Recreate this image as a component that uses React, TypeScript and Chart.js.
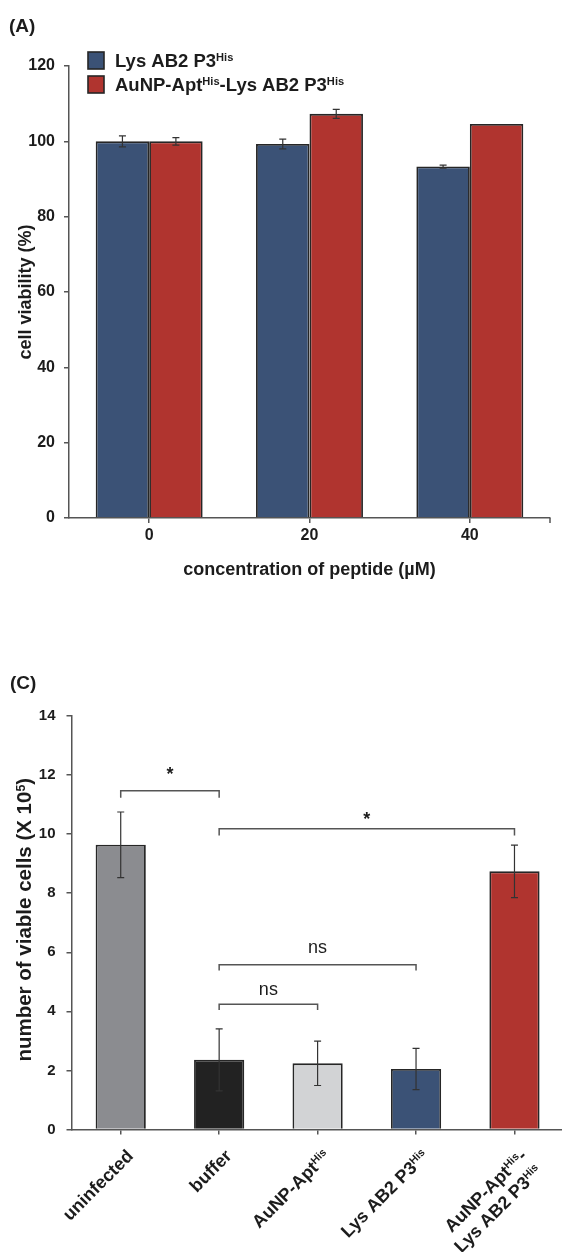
import React, { useEffect, useRef } from 'react';
import { Chart, registerables } from 'chart.js';

Chart.register(...registerables);

const FONT = '"Liberation Sans", Arial, Helvetica, sans-serif';
const TEXT = '#1c1c1c';
const AXIS = '#555555';
const EDGE = '#262626';

// ---------- Panel A data ----------
const concentrations = ['0', '20', '40'];
const lysValues = [100, 99.3, 93.3];
const lysErrors = [1.45, 1.3, 0.4];
const auLysValues = [100, 107.3, 104.6];
const auLysErrors = [1.0, 1.2, 0];
const seriesLabelsA = ['Lys AB2 P3^{His}', 'AuNP-Apt^{His}-Lys AB2 P3^{His}'];
const seriesColorsA = ['#3b5276', '#b0342f'];
const yMaxA = 120;
const yStepA = 20;
const xTitleA = 'concentration of peptide (µM)';
const yTitleA = 'cell viability (%)';

// ---------- Panel C data ----------
const groupsC = [
  ['uninfected'],
  ['buffer'],
  ['AuNP-Apt^{His}'],
  ['Lys AB2 P3^{His}'],
  ['AuNP-Apt^{His}-', 'Lys AB2 P3^{His}'],
];
const viableCells = [9.64, 2.36, 2.24, 2.05, 8.74];
const viableErrors = [1.11, 1.05, 0.75, 0.7, 0.89];
const colorsC = ['#8b8c90', '#222222', '#d2d3d5', '#3b5276', '#b0342f'];
const yMaxC = 14;
const yStepC = 2;
const yTitleC = 'number of viable cells (X 10^{5})';
// significance brackets
const sigFrom = [0, 1, 1, 1];
const sigTo = [1, 4, 3, 2];
const sigLineY = [11.47, 10.18, 5.58, 4.24];
const sigEndY = [11.23, 9.95, 5.38, 4.05];
const sigText = ['*', '*', 'ns', 'ns'];
const sigTextY = [12.19, 10.66, 6.15, 4.75];

type Seg = { t: string; sup: boolean };
function parseRich(s: string): Seg[] {
  const segs: Seg[] = [];
  const re = /\^\{([^}]*)\}/g;
  let last = 0;
  let m: RegExpExecArray | null;
  while ((m = re.exec(s))) {
    if (m.index > last) segs.push({ t: s.slice(last, m.index), sup: false });
    segs.push({ t: m[1], sup: true });
    last = re.lastIndex;
  }
  if (last < s.length) segs.push({ t: s.slice(last), sup: false });
  return segs;
}

function drawRich(
  ctx: CanvasRenderingContext2D,
  s: string,
  x: number,
  y: number,
  size: number,
  align: 'left' | 'right' | 'center',
  rotation = 0,
  weight = 'bold',
  color = TEXT
) {
  const segs = parseRich(s);
  const supSize = size * 0.6;
  const fontFor = (sup: boolean) => `${weight} ${sup ? supSize : size}px ${FONT}`;
  let w = 0;
  for (const sg of segs) {
    ctx.font = fontFor(sg.sup);
    w += ctx.measureText(sg.t).width;
  }
  ctx.save();
  ctx.translate(x, y);
  ctx.rotate(rotation);
  let cx = align === 'left' ? 0 : align === 'right' ? -w : -w / 2;
  const base = size * 0.36;
  ctx.fillStyle = color;
  ctx.textAlign = 'left';
  ctx.textBaseline = 'alphabetic';
  for (const sg of segs) {
    ctx.font = fontFor(sg.sup);
    ctx.fillText(sg.t, cx, sg.sup ? base - size * 0.33 : base);
    cx += ctx.measureText(sg.t).width;
  }
  ctx.restore();
}

function drawErrorBars(chart: any, errs: number[][]) {
  const ctx = chart.ctx as CanvasRenderingContext2D;
  const ys = chart.scales.y;
  ctx.save();
  ctx.strokeStyle = '#333333';
  ctx.lineWidth = 1.2;
  chart.data.datasets.forEach((ds: any, di: number) => {
    const meta = chart.getDatasetMeta(di);
    meta.data.forEach((bar: any, i: number) => {
      const e = errs[di][i];
      if (!e) return;
      const v = ds.data[i];
      const x = bar.x;
      const t = ys.getPixelForValue(v + e);
      const b = ys.getPixelForValue(v - e);
      ctx.beginPath();
      ctx.moveTo(x, t);
      ctx.lineTo(x, b);
      ctx.moveTo(x - 3.5, t);
      ctx.lineTo(x + 3.5, t);
      ctx.moveTo(x - 3.5, b);
      ctx.lineTo(x + 3.5, b);
      ctx.stroke();
    });
  });
  ctx.restore();
}

function ChartA() {
  const ref = useRef<HTMLCanvasElement>(null);
  useEffect(() => {
    const extras = {
      id: 'extrasA',
      afterDatasetsDraw(chart: any) {
        drawErrorBars(chart, [lysErrors, auLysErrors]);
      },
      afterDraw(chart: any) {
        const ctx = chart.ctx as CanvasRenderingContext2D;
        const area = chart.chartArea;
        drawRich(ctx, '(A)', 9, 25, 19, 'left');
        seriesLabelsA.forEach((lab, i) => {
          const top = 52 + i * 24;
          ctx.save();
          ctx.fillStyle = seriesColorsA[i];
          ctx.fillRect(88, top, 16, 17);
          ctx.strokeStyle = EDGE;
          ctx.lineWidth = 1.6;
          ctx.strokeRect(88, top, 16, 17);
          ctx.restore();
          drawRich(ctx, lab, 115, top + 8.5, 18.5, 'left');
        });
        drawRich(ctx, xTitleA, (area.left + area.right) / 2, 569, 18, 'center');
        drawRich(ctx, yTitleA, 25, (area.top + area.bottom) / 2, 18, 'center', -Math.PI / 2);
        ctx.save();
        ctx.strokeStyle = AXIS;
        ctx.lineWidth = 1.5;
        ctx.beginPath();
        ctx.moveTo(area.right, area.bottom);
        ctx.lineTo(area.right, area.bottom + 5);
        ctx.stroke();
        ctx.restore();
      },
    };
    const chart = new Chart(ref.current as HTMLCanvasElement, {
      type: 'bar',
      data: {
        labels: concentrations,
        datasets: [
          {
            label: 'Lys AB2 P3His',
            data: lysValues,
            backgroundColor: seriesColorsA[0],
            borderColor: EDGE,
            borderWidth: 1.8,
            categoryPercentage: 0.667,
            barPercentage: 1,
          },
          {
            label: 'AuNP-AptHis-Lys AB2 P3His',
            data: auLysValues,
            backgroundColor: seriesColorsA[1],
            borderColor: EDGE,
            borderWidth: 1.8,
            categoryPercentage: 0.667,
            barPercentage: 1,
          },
        ],
      },
      options: {
        animation: false,
        responsive: false,
        maintainAspectRatio: false,
        layout: { padding: { left: 0, right: 12, top: 66, bottom: 0 } },
        plugins: { legend: { display: false }, tooltip: { enabled: false } },
        scales: {
          x: {
            grid: { display: true, drawOnChartArea: false, offset: false, tickLength: 5, color: AXIS, lineWidth: 1.5 },
            border: { display: true, color: AXIS, width: 1.5 },
            ticks: { font: { family: FONT, size: 16, weight: 'bold' }, color: TEXT, padding: 3 },
            afterFit: (s: any) => {
              s.height = 112;
            },
          },
          y: {
            min: 0,
            max: yMaxA,
            ticks: { stepSize: yStepA, font: { family: FONT, size: 16, weight: 'bold' }, color: TEXT, padding: 9 },
            grid: { display: true, drawOnChartArea: false, tickLength: 5, color: AXIS, lineWidth: 1.5 },
            border: { display: true, color: AXIS, width: 1.5 },
            afterFit: (s: any) => {
              s.width = 69;
            },
          },
        },
      } as any,
      plugins: [extras],
    });
    return () => chart.destroy();
  }, []);
  return (
    <canvas
      ref={ref}
      width={562}
      height={630}
      style={{ position: 'absolute', left: 0, top: 0, width: 562, height: 630, display: 'block' }}
    />
  );
}

function ChartC() {
  const ref = useRef<HTMLCanvasElement>(null);
  useEffect(() => {
    const extras = {
      id: 'extrasC',
      afterDatasetsDraw(chart: any) {
        drawErrorBars(chart, [viableErrors]);
      },
      afterDraw(chart: any) {
        const ctx = chart.ctx as CanvasRenderingContext2D;
        const area = chart.chartArea;
        const xs = chart.scales.x;
        const ys = chart.scales.y;
        drawRich(ctx, '(C)', 10, 52, 19, 'left');
        drawRich(ctx, yTitleC, 24, (area.top + area.bottom) / 2 - 3, 20.5, 'center', -Math.PI / 2);
        groupsC.forEach((lines, i) => {
          const tx = xs.getPixelForTick(i);
          lines.forEach((ln, j) => {
            drawRich(ctx, ln, tx + 9 + j * 15, area.bottom + 23 + j * 15, 18, 'right', -Math.PI / 4);
          });
        });
        ctx.save();
        ctx.strokeStyle = '#555555';
        ctx.lineWidth = 1.5;
        sigFrom.forEach((f, k) => {
          const x1 = xs.getPixelForTick(f);
          const x2 = xs.getPixelForTick(sigTo[k]);
          const yl = ys.getPixelForValue(sigLineY[k]);
          const ye = ys.getPixelForValue(sigEndY[k]);
          ctx.beginPath();
          ctx.moveTo(x1, ye);
          ctx.lineTo(x1, yl);
          ctx.lineTo(x2, yl);
          ctx.lineTo(x2, ye);
          ctx.stroke();
          const yt = ys.getPixelForValue(sigTextY[k]);
          const xm = (x1 + x2) / 2;
          if (sigText[k] === '*') {
            ctx.save();
            ctx.font = `bold 18px ${FONT}`;
            ctx.fillStyle = TEXT;
            ctx.textAlign = 'center';
            ctx.textBaseline = 'alphabetic';
            ctx.fillText('*', xm, yt + 18 * 0.57);
            ctx.restore();
          } else {
            drawRich(ctx, sigText[k], xm, yt - 1, 18, 'center', 0, 'normal');
          }
        });
        ctx.restore();
      },
    };
    const chart = new Chart(ref.current as HTMLCanvasElement, {
      type: 'bar',
      data: {
        labels: groupsC.map((g) => g.join(' ').replace(/\^\{([^}]*)\}/g, '$1')),
        datasets: [
          {
            label: 'number of viable cells',
            data: viableCells,
            backgroundColor: colorsC,
            borderColor: EDGE,
            borderWidth: 1.8,
            categoryPercentage: 0.51,
            barPercentage: 1,
          },
        ],
      },
      options: {
        animation: false,
        responsive: false,
        maintainAspectRatio: false,
        layout: { padding: { left: 0, right: 6.3, top: 86, bottom: 0 } },
        plugins: { legend: { display: false }, tooltip: { enabled: false } },
        scales: {
          x: {
            grid: { display: true, drawOnChartArea: false, offset: false, tickLength: 5, color: AXIS, lineWidth: 1.5 },
            border: { display: true, color: AXIS, width: 1.5 },
            ticks: { display: false },
            afterFit: (s: any) => {
              s.height = 122.5;
            },
          },
          y: {
            min: 0,
            max: yMaxC,
            ticks: { stepSize: yStepC, font: { family: FONT, size: 15, weight: 'bold' }, color: TEXT, padding: 11 },
            grid: { display: true, drawOnChartArea: false, tickLength: 5, color: AXIS, lineWidth: 1.5 },
            border: { display: true, color: AXIS, width: 1.5 },
            afterFit: (s: any) => {
              s.width = 71.5;
            },
          },
        },
      } as any,
      plugins: [extras],
    });
    return () => chart.destroy();
  }, []);
  return (
    <canvas
      ref={ref}
      width={570}
      height={622}
      style={{ position: 'absolute', left: 0, top: 630, width: 570, height: 622, display: 'block' }}
    />
  );
}

export default function App() {
  return (
    <div
      style={{
        position: 'absolute',
        left: 0,
        top: 0,
        width: 562,
        height: 1252,
        overflow: 'hidden',
        background: '#ffffff',
      }}
    >
      <ChartA />
      <ChartC />
    </div>
  );
}
